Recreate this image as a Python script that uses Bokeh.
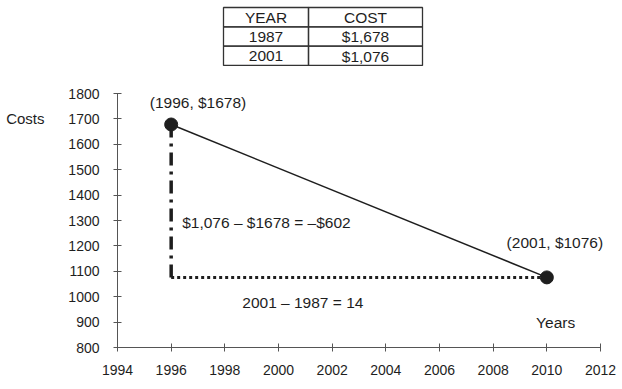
from bokeh.plotting import figure
from bokeh.models import Range1d, FixedTicker, Label, LinearAxis
from bokeh.embed import file_html
from bokeh.resources import INLINE

# ---- data ----
table_header = ["YEAR", "COST"]
table_years = ["1987", "2001"]
table_costs = ["$1,678", "$1,076"]

point_x = [1996, 2010]
point_y = [1678, 1076]
point_labels = ["(1996, $1678)", "(2001, $1076)"]

x_ticks = [1994, 1996, 1998, 2000, 2002, 2004, 2006, 2008, 2010, 2012]
y_ticks = [800, 900, 1000, 1100, 1200, 1300, 1400, 1500, 1600, 1700, 1800]

y_title = "Costs"
x_title = "Years"
rise_text = "$1,076 \u2013 $1678 = \u2013$602"
run_text = "2001 \u2013 1987 = 14"

# ---- layout ----
W, H = 622, 389
left_b, bottom_b = 117, 42
px_per_year = 483 / (x_ticks[-1] - x_ticks[0])
frame_w = W - left_b
frame_h = H - bottom_b
x_end = x_ticks[0] + frame_w / px_per_year
px_per_1000 = 254.0
y_end = y_ticks[0] + frame_h / px_per_1000 * 1000

FONT = "Liberation Sans"
INK = "#1e1e1e"

p = figure(width=W, height=H, output_backend="svg", toolbar_location=None,
           x_range=Range1d(x_ticks[0], x_end),
           y_range=Range1d(y_ticks[0], y_end),
           min_border_left=left_b, min_border_right=0,
           min_border_top=0, min_border_bottom=bottom_b)
p.outline_line_color = None
p.grid.visible = False
p.background_fill_color = "white"
p.border_fill_color = "white"

p.extra_x_ranges = {"tx": Range1d(0, frame_w)}
p.extra_y_ranges = {"ty": Range1d(frame_h, 0)}

for ax, ticks, stand in ((p.xaxis[0], x_ticks, 13), (p.yaxis[0], y_ticks, 14)):
    ax.ticker = FixedTicker(ticks=ticks)
    ax.bounds = (ticks[0], ticks[-1])
    ax.axis_line_color = "#555555"
    ax.axis_line_width = 1
    ax.major_tick_line_color = "#555555"
    ax.major_tick_in = 4
    ax.major_tick_out = 4
    ax.minor_tick_line_color = None
    ax.major_label_text_font = FONT
    ax.major_label_text_font_size = "14px"
    ax.major_label_text_color = INK
    ax.major_label_standoff = stand

# "Costs" label as an outer left axis with a single tick at 1700
costs_axis = LinearAxis(ticker=FixedTicker(ticks=[1700]),
                        major_label_overrides={1700: y_title},
                        axis_line_color=None, major_tick_line_color=None,
                        minor_tick_line_color=None, major_tick_out=0, major_tick_in=0,
                        major_label_standoff=21, major_label_text_font=FONT,
                        major_label_text_font_size="15px", major_label_text_color=INK)
p.add_layout(costs_axis, "left")

# ---- chart marks ----
p.line(point_x, point_y, line_color=INK, line_width=1.5)
p.line([point_x[0], point_x[0]], [point_y[0], point_y[1]], line_color=INK,
       line_width=3.5, line_dash="13 6 3 6")
p.line([point_x[0], point_x[1]], [point_y[1], point_y[1]], line_color=INK,
       line_width=3, line_dash="3 3")
p.scatter(point_x, point_y, size=13, color=INK)

def lab(x, y, text, align="left"):
    p.add_layout(Label(x=x, y=y, text=text, text_font=FONT, text_font_size="15.5px",
                       text_color=INK, text_align=align, text_baseline="middle"))

lab(1997.0, 1766, point_labels[0], "center")
lab(2010.3, 1214, point_labels[1], "center")
lab(1996.41, 1293, rise_text)
lab(1998.65, 978, run_text)
lab(2009.6, 900, x_title)

# ---- table (in frame pixel coordinates) ----
col_edges = [106, 191, 305]
row_h = 19.3
row_top = 7
rows = [table_header] + [[y, c] for y, c in zip(table_years, table_costs)]
lefts, rights, tops, bottoms, tx, ty, tt = [], [], [], [], [], [], []
for r, row in enumerate(rows):
    for c, txt in enumerate(row):
        l, rr = col_edges[c], col_edges[c + 1]
        t = row_top + r * row_h
        lefts.append(l); rights.append(rr); tops.append(t); bottoms.append(t + row_h)
        tx.append((l + rr) / 2); ty.append(t + row_h / 2 + 0.5); tt.append(txt)
p.quad(left=lefts, right=rights, top=tops, bottom=bottoms, fill_color=None,
       line_color="#333333", line_width=1.3, x_range_name="tx", y_range_name="ty")
p.text(x=tx, y=ty, text=tt, text_align="center", text_baseline="middle",
       text_font_size="15.5px", text_color=INK, text_font={"value": FONT},
       x_range_name="tx", y_range_name="ty")

open("out.html", "w").write(file_html(p, INLINE))
